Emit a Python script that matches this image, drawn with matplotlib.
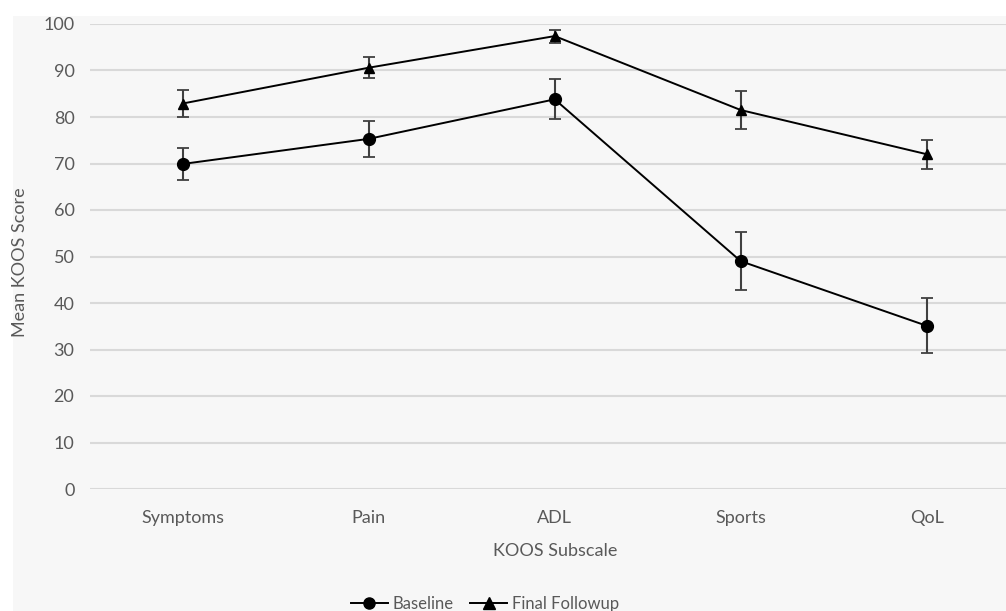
import matplotlib.pyplot as plt
from matplotlib.patches import Rectangle
from matplotlib.lines import Line2D

categories = ["Symptoms", "Pain", "ADL", "Sports", "QoL"]
baseline = [69.9, 75.3, 83.8, 49.0, 35.1]
baseline_err = [3.5, 3.9, 4.3, 6.3, 5.9]
followup = [82.9, 90.6, 97.4, 81.5, 72.0]
followup_err = [3.0, 2.3, 1.4, 4.1, 3.1]
yticks = [0, 10, 20, 30, 40, 50, 60, 70, 80, 90, 100]

W, H = 1006, 611
fig = plt.figure(figsize=(W / 100, H / 100), dpi=100, facecolor="white")
fig.patches.append(Rectangle((13 / W, 0), 1, (H - 16) / H, transform=fig.transFigure,
                             facecolor="#f7f7f7", edgecolor="none", zorder=-10))

text_color = "#595959"
font = "Lato"
fs = 13

ax = fig.add_axes([89.7 / W, (H - 489) / H, 930 / W, 465 / H])
ax.set_facecolor("none")
x = list(range(len(categories)))

ax.errorbar(x, baseline, yerr=baseline_err, color="black", marker="o", markersize=8.5,
            linewidth=1.4, ecolor="#404040", elinewidth=1.5, capsize=4, capthick=1.3,
            label="Baseline", zorder=3)
ax.errorbar(x, followup, yerr=followup_err, color="black", marker="^", markersize=7.5,
            linewidth=1.4, ecolor="#404040", elinewidth=1.5, capsize=4, capthick=1.3,
            label="Final Followup", zorder=3)

ax.set_xlim(-0.5, len(categories) - 0.5)
ax.set_ylim(0, 100)
ax.set_yticks(yticks)
ax.set_xticks(x)
ax.set_xticklabels(categories)
for s in ax.spines.values():
    s.set_visible(False)
ax.grid(axis="y", color="#d9d9d9", linewidth=1.5, zorder=0)
ax.set_axisbelow(True)
ax.tick_params(length=0, colors=text_color, labelsize=fs, pad=11)
ax.tick_params(axis="x", pad=15)
for lbl in ax.get_xticklabels() + ax.get_yticklabels():
    lbl.set_fontfamily(font)

ax.set_xlabel("KOOS Subscale", color=text_color, fontsize=fs, fontfamily=font, labelpad=12)
fig.text(20 / W, (H - 262) / H, "Mean KOOS Score", rotation=90, color=text_color,
         fontsize=fs, fontfamily=font, ha="center", va="center")

handles = [
    Line2D([], [], color="black", marker="o", markersize=8, linewidth=1.4),
    Line2D([], [], color="black", marker="^", markersize=8, linewidth=1.4),
]
fig.legend(handles, ["Baseline", "Final Followup"], loc="center",
           bbox_to_anchor=(485 / W, (H - 604) / H), ncol=2, frameon=False,
           prop={"family": font, "size": 12}, labelcolor=text_color,
           handlelength=2.2, handletextpad=0.3, columnspacing=1.0)

fig.savefig("out.png", dpi=100, facecolor=fig.get_facecolor())
